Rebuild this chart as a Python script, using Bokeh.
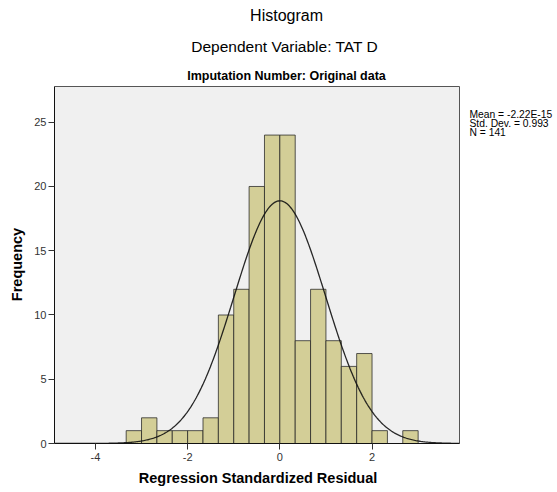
import math
from bokeh.plotting import figure
from bokeh.models import Range1d, FixedTicker, Title, Label, BoxAnnotation
from bokeh.embed import file_html
from bokeh.resources import INLINE

# ---- data ----
bin_start = -10.0 / 3.0
bin_width = 1.0 / 3.0
counts = [1, 2, 1, 1, 1, 2, 10, 12, 20, 24, 24, 8, 12, 8, 6, 7, 1, 0, 1]
stat_mean = -2.22e-15
stat_sd = 0.993
stat_n = 141
x_ticks = [-4, -2, 0, 2]
x_tick_labels = ["-4", "-2", "0", "2"]
y_ticks = [0, 5, 10, 15, 20, 25]
titles = ["Histogram", "Dependent Variable: TAT D", "Imputation Number: Original data"]
x_label = "Regression Standardized Residual"
y_label = "Frequency"
stats_lines = ["Mean = -2.22E-15", "Std. Dev. = 0.993", "N = 141"]

# ---- layout (pixels) ----
W, H = 557, 492
FL, FB = 54, 443          # plot-area left / bottom
BOX_R, BOX_T = 459, 86    # grey plot-area right / top
FRAME_T = 85
X0, X1 = -4.888, 3.897    # visible x extent of grey plot area
Y0, Y1 = 0.0, 27.78
PXX = (BOX_R - FL) / (X1 - X0)
PXY = (FB - BOX_T) / (Y1 - Y0)
XR = X0 + (W - FL) / PXX
YT = Y1 + (BOX_T - FRAME_T) / PXY

def dx(px):
    return X0 + (px - FL) / PXX

def dy(py):
    return Y0 + (FB - py) / PXY

p = figure(width=W, height=H, output_backend="svg", toolbar_location=None,
           x_range=Range1d(X0, XR), y_range=Range1d(Y0, YT),
           min_border_left=FL, min_border_right=0,
           min_border_top=FRAME_T, min_border_bottom=H - FB)
p.background_fill_color = "white"
p.border_fill_color = "white"
p.grid.visible = False
p.outline_line_color = None

p.add_layout(BoxAnnotation(left=X0, right=X1, bottom=Y0, top=Y1, level="underlay",
                           fill_color="#f0f0f0", fill_alpha=1.0,
                           line_color="#555555", line_width=1, line_alpha=1.0))

lefts = [bin_start + i * bin_width for i in range(len(counts))]
rights = [l + bin_width for l in lefts]
p.quad(left=lefts, right=rights, top=counts, bottom=0,
       fill_color="#d3ce97", line_color="#222222", line_alpha=0.75, line_width=1)

# fitted normal curve
xs = [X0 + (X1 - X0) * i / 400 for i in range(401)]
ys = [stat_n * bin_width / (stat_sd * math.sqrt(2 * math.pi)) *
      math.exp(-0.5 * ((x - stat_mean) / stat_sd) ** 2) for x in xs]
p.line(xs, ys, line_color="#111111", line_width=1.3, line_alpha=0.9)

for ax in (p.xaxis[0], p.yaxis[0]):
    ax.axis_line_color = "#111111"
    ax.major_tick_line_color = "#333333"
    ax.minor_tick_line_color = None
    ax.major_tick_in = 0
    ax.major_tick_out = 6
    ax.major_label_text_font = "Liberation Sans"
    ax.major_label_text_font_size = "11px"
    ax.major_label_text_color = "#333333"
    ax.axis_label_text_font = "Liberation Sans"
    ax.axis_label_text_font_style = "bold"
    ax.axis_label_text_font_size = "14.5px"
    ax.axis_label_text_color = "black"

p.xaxis.bounds = (X0, X1)
p.yaxis.bounds = (Y0, Y1)
p.xaxis.ticker = FixedTicker(ticks=x_ticks)
p.xaxis.major_label_overrides = {t: s for t, s in zip(x_ticks, x_tick_labels)}
p.yaxis.ticker = FixedTicker(ticks=y_ticks)
p.yaxis.axis_label = y_label
p.xaxis.major_label_standoff = 3
p.yaxis.major_label_standoff = 2
p.yaxis.axis_label_standoff = 6

# x-axis title centred under the grey plot area (x = 257.5)
p.add_layout(Title(text=x_label, align="left", offset=84.3, vertical_align="bottom",
                   text_font="Liberation Sans", text_font_size="14.5px",
                   text_font_style="bold", text_color="black", standoff=9), "below")

# titles: centred at x=286 (left aligned with offsets from the frame's left edge)
p.add_layout(Title(text=titles[2], align="left", offset=132.7, vertical_align="top",
                   text_font="Liberation Sans", text_font_size="12.5px",
                   text_font_style="bold", text_color="black", standoff=1), "above")
p.add_layout(Title(text=titles[1], align="left", offset=136.8, vertical_align="top",
                   text_font="Liberation Sans", text_font_size="15.5px",
                   text_font_style="normal", text_color="black", standoff=24), "above")
p.title.text = titles[0]
p.title.align = "left"
p.title.offset = 195.6
p.title.text_font = "Liberation Sans"
p.title.text_font_size = "16px"
p.title.text_font_style = "normal"
p.title.text_color = "black"
p.title.standoff = 4

# statistics text to the right of the plot area
for i, txt in enumerate(stats_lines):
    p.add_layout(Label(x=dx(469), y=dy(114.0 + 8.9 * i), text=txt, text_align="left",
                       text_baseline="alphabetic", text_font="Liberation Sans",
                       text_font_size="10.3px", text_color="black"))

open("out.html", "w").write(file_html(p, INLINE))
